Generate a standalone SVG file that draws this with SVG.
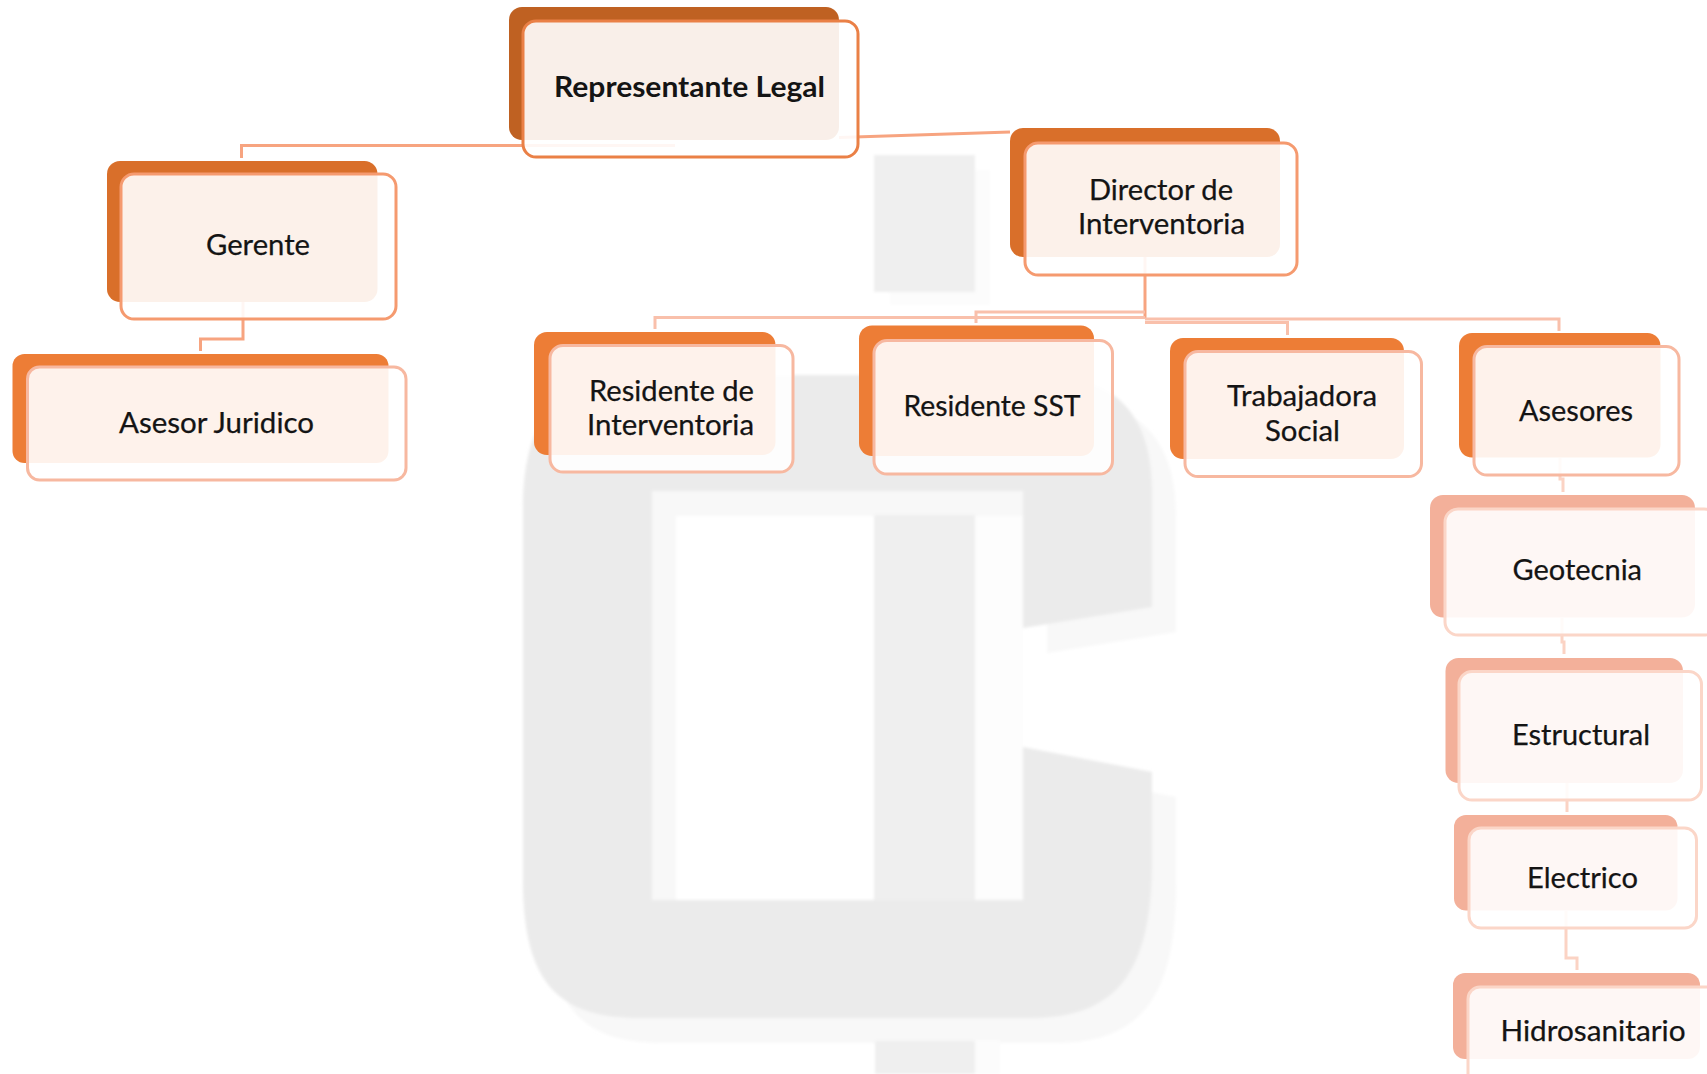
<svg xmlns="http://www.w3.org/2000/svg" width="1707" height="1074" viewBox="0 0 1707 1074">
<style>
text{font-family:"Lato","Liberation Sans",sans-serif;font-size:28.5px;fill:#141414;stroke:#141414;stroke-width:.25px}
.b{font-weight:700;stroke-width:0}
.back{stroke:none}
.front{fill:#fff;fill-opacity:.9;stroke-width:3}
.l0{fill:#bf6122}.l1{fill:#d96f2a}.l2{fill:#ed7d36}.l3{fill:#f3b09a}
.s0{stroke:#ea8046}.s1{stroke:#f59a6f}.s2{stroke:#f7b8a0}.s3{stroke:#fbd6c8}
.c{fill:none;stroke-width:3}
.c1{stroke:#f7a480}.c2{stroke:#f9c0ab}.c3{stroke:#fbd3c4}
</style>
<defs>
<filter id="soft" x="-5%" y="-5%" width="110%" height="110%"><feGaussianBlur stdDeviation="1.6"/></filter>
<path id="cshape" fill-rule="evenodd" d="M640,375 L1040,375 C1115,375 1152,415 1152,490 L1152,607 L1023,628 L1023,491 L652,491 L652,900 L1023,900 L1023,747 L1152,772 L1152,860 C1152,975 1115,1018 1030,1018 L640,1018 C560,1018 523,985 523,880 L523,510 C523,415 560,375 640,375 Z"/>
</defs>
<g id="watermark" filter="url(#soft)">
<use href="#cshape" transform="translate(24,25)" fill="#f8f8f8"/>
<rect x="890" y="170" width="100" height="135" fill="#fcfcfc"/>
<rect x="975" y="516" width="48" height="384" fill="#fdfdfd"/>
<rect x="975" y="1040" width="25" height="34" fill="#fcfcfc"/>
<use href="#cshape" fill="#ebebeb"/>
<rect x="874" y="155" width="101" height="137" fill="#efefef"/>
<rect x="874" y="515" width="101" height="385" fill="#efefef"/>
<rect x="875" y="1041" width="100" height="33" fill="#efefef"/>
</g>
<g id="connectors">
<path class="c c1" d="M675,145.500 L241.500,145.500 L241.500,158"/>
<path class="c c1" d="M839,137.500 L1010,132"/>
<path class="c c1" d="M243,302 L243,339 L200.500,339 L200.500,351"/>
<path class="c c1" d="M1145,257 L1145,318"/>
<path class="c c2" d="M1145,317.500 L655,317.500 L655,329"/>
<path class="c c2" d="M1145,312 L976,312 L976,323"/>
<path class="c c2" d="M1145,322.500 L1287.500,322.500 L1287.500,335"/>
<path class="c c2" d="M1145,319 L1559,319 L1559,331"/>
<path class="c c3" d="M1560,458 L1560,479 L1563,479 L1563,492"/>
<path class="c c3" d="M1562,618 L1562,642 L1564,642 L1564,654"/>
<path class="c c3" d="M1567,783 L1567,812"/>
<path class="c c3" d="M1566,911 L1566,958 L1577,958 L1577,970"/>
</g>
<g id="representante">
<rect class="back l0" x="509" y="7" width="330" height="133" rx="13"/>
<rect class="front s0" x="523" y="21" width="335" height="136" rx="13"/>
<text class="b" x="554" y="97" textLength="271" lengthAdjust="spacingAndGlyphs">Representante Legal</text>
</g>
<g id="director">
<rect class="back l1" x="1010" y="128" width="270" height="129" rx="13"/>
<rect class="front s1" x="1025" y="143" width="272" height="132" rx="13"/>
<text x="1089" y="200" textLength="144" lengthAdjust="spacingAndGlyphs">Director de</text>
<text x="1078" y="234" textLength="167" lengthAdjust="spacingAndGlyphs">Interventoria</text>
</g>
<g id="gerente">
<rect class="back l1" x="107" y="161" width="270.500" height="141" rx="13"/>
<rect class="front s1" x="121" y="174" width="275" height="145" rx="13"/>
<text x="206" y="255" textLength="104" lengthAdjust="spacingAndGlyphs">Gerente</text>
</g>
<g id="asesor-juridico">
<rect class="back l2" x="12.500" y="354" width="376" height="109" rx="12"/>
<rect class="front s2" x="27.500" y="367" width="378.500" height="113" rx="12"/>
<text x="119" y="432.500" textLength="195" lengthAdjust="spacingAndGlyphs">Asesor Juridico</text>
</g>
<g id="residente-interventoria">
<rect class="back l2" x="534" y="332" width="241.500" height="123" rx="13"/>
<rect class="front s2" x="550" y="345.500" width="243" height="126.500" rx="13"/>
<text x="589" y="401" textLength="165" lengthAdjust="spacingAndGlyphs">Residente de</text>
<text x="587" y="435" textLength="167" lengthAdjust="spacingAndGlyphs">Interventoria</text>
</g>
<g id="residente-sst">
<rect class="back l2" x="859" y="325.500" width="235" height="130.500" rx="13"/>
<rect class="front s2" x="874" y="340.500" width="238.500" height="133.500" rx="13"/>
<text x="903.500" y="416" textLength="177" lengthAdjust="spacingAndGlyphs">Residente SST</text>
</g>
<g id="trabajadora">
<rect class="back l2" x="1170" y="338" width="234" height="121" rx="13"/>
<rect class="front s2" x="1185" y="351.500" width="236.500" height="125" rx="13"/>
<text x="1227" y="406" textLength="150" lengthAdjust="spacingAndGlyphs">Trabajadora</text>
<text x="1265" y="440.500" textLength="75" lengthAdjust="spacingAndGlyphs">Social</text>
</g>
<g id="asesores">
<rect class="back l2" x="1459" y="333" width="201.500" height="124.500" rx="13"/>
<rect class="front s2" x="1474" y="346.500" width="205" height="128.500" rx="13"/>
<text x="1519" y="421" textLength="114" lengthAdjust="spacingAndGlyphs">Asesores</text>
</g>
<g id="geotecnia">
<rect class="back l3" x="1430" y="495" width="265" height="122.500" rx="13"/>
<rect class="front s3" x="1445" y="509" width="272" height="126" rx="13"/>
<text x="1512.500" y="580" textLength="129.500" lengthAdjust="spacingAndGlyphs">Geotecnia</text>
</g>
<g id="estructural">
<rect class="back l3" x="1445.500" y="658" width="237.500" height="125" rx="13"/>
<rect class="front s3" x="1459" y="671.500" width="242.500" height="128.500" rx="13"/>
<text x="1512" y="745" textLength="138" lengthAdjust="spacingAndGlyphs">Estructural</text>
</g>
<g id="electrico">
<rect class="back l3" x="1454" y="815" width="223.500" height="95.500" rx="12"/>
<rect class="front s3" x="1469" y="828" width="227.500" height="100" rx="12"/>
<text x="1527" y="888" textLength="111" lengthAdjust="spacingAndGlyphs">Electrico</text>
</g>
<g id="hidrosanitario">
<rect class="back l3" x="1453" y="973" width="247" height="86" rx="12"/>
<rect class="front s3" x="1468" y="987" width="255" height="105" rx="12"/>
<text x="1500.500" y="1041" textLength="185" lengthAdjust="spacingAndGlyphs">Hidrosanitario</text>
</g>
</svg>
